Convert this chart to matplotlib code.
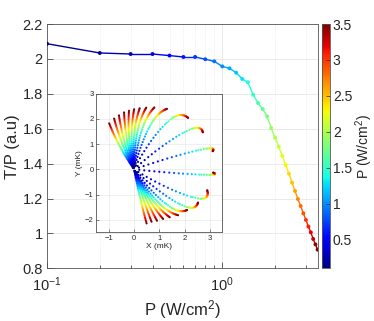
import numpy as np
import matplotlib
matplotlib.use('Agg')
import matplotlib.pyplot as plt
from matplotlib.collections import LineCollection
from matplotlib.colors import Normalize
from matplotlib.cm import ScalarMappable
from matplotlib.ticker import FixedLocator, FuncFormatter, NullFormatter

plt.rcParams['font.family'] = ['Liberation Sans', 'DejaVu Sans']
plt.rcParams['mathtext.fontset'] = 'custom'
plt.rcParams['mathtext.rm'] = 'Liberation Sans'
plt.rcParams['mathtext.it'] = 'Liberation Sans:italic'

# ---------------- data ----------------
power = [0.1, 0.2, 0.3, 0.4, 0.5, 0.6, 0.7, 0.8, 0.9, 1.0,
         1.1, 1.2, 1.3, 1.4, 1.5, 1.6, 1.7, 1.8, 1.9, 2.0,
         2.1, 2.2, 2.3, 2.4, 2.5, 2.6, 2.7, 2.8, 2.9, 3.0,
         3.1, 3.2, 3.3, 3.4, 3.5]
t_over_p = [2.087, 2.034, 2.028, 2.028, 2.019, 2.011, 2.011, 1.998, 1.986, 1.957,
            1.946, 1.921, 1.885, 1.866, 1.795, 1.747, 1.713, 1.671, 1.604, 1.549,
            1.497, 1.444, 1.392, 1.342, 1.291, 1.243, 1.197, 1.157, 1.115, 1.077,
            1.039, 1.006, 0.968, 0.937, 0.907]

y_ticks = [0.8, 1.0, 1.2, 1.4, 1.6, 1.8, 2.0, 2.2]
x_major = [0.1, 1.0]
x_major_labels = ['$10^{-1}$', '$10^{0}$']
cbar_ticks = [0.5, 1.0, 1.5, 2.0, 2.5, 3.0, 3.5]

# inset trajectories: start angle (deg), end angle (deg),
# initial slope (mK per W/cm2) and end radius (mK)
ray_theta_start = [125, 118, 112.5, 107, 102.5, 98, 94, 90, 84, 76, 63, 42, 19, -6,
                   -32, -44, -54, -60, -64, -67, -70, -74, -79]
ray_theta_end = [118.5, 111.5, 105.7, 100, 95, 90, 84.8, 78.9, 71.9, 61.5, 43.6, 28.3, 13, -2.4,
                 -16, -27.5, -37.6, -46.3, -53.4, -59.7, -66, -71.6, -77]
ray_slope = [0.60, 0.63, 0.66, 0.70, 0.75, 0.80, 0.88, 0.98, 1.10, 1.30, 1.70, 1.90, 2.05, 2.08,
             2.00, 1.75, 1.40, 1.10, 0.90, 0.80, 0.72, 0.66, 0.63]
ray_r_end = [2.07, 2.16, 2.22, 2.29, 2.33, 2.38, 2.43, 2.49, 2.58, 2.73, 2.96, 3.10, 3.20, 3.14,
             3.02, 2.86, 2.65, 2.52, 2.37, 2.28, 2.23, 2.19, 2.20]

# ---------------- figure ----------------
W, H = 374, 321
fig = plt.figure(figsize=(W / 100, H / 100), dpi=100)
txt = '#262626'

ax_left, ax_right, ax_top, ax_bot = 47, 318.3, 24, 268.3
ax = fig.add_axes([ax_left / W, 1 - ax_bot / H, (ax_right - ax_left) / W, (ax_bot - ax_top) / H])
cmap = plt.get_cmap('jet')
norm = Normalize(vmin=0.1, vmax=3.5)

P = np.array(power)
G = np.array(t_over_p)

pts = np.column_stack([P, G])
segs = np.stack([pts[:-1], pts[1:]], axis=1)
lc = LineCollection(segs, colors=cmap(norm(0.5 * (P[:-1] + P[1:]))), linewidths=1.0, zorder=3)
ax.add_collection(lc)
ax.scatter(P, G, c=P, cmap=cmap, norm=norm, s=8, zorder=4, linewidths=0)

ax.set_xscale('log')
ax.set_xlim(0.1, 3.53)
ax.set_ylim(0.8, 2.2)
ax.xaxis.set_major_locator(FixedLocator(x_major))
ax.xaxis.set_major_formatter(FuncFormatter(
    lambda v, i: x_major_labels[x_major.index(round(v, 3))] if round(v, 3) in x_major else ''))
ax.xaxis.set_minor_locator(FixedLocator([0.2, 0.3, 0.4, 0.5, 0.6, 0.7, 0.8, 0.9, 2, 3]))
ax.xaxis.set_minor_formatter(NullFormatter())
ax.set_yticks(y_ticks)
ax.set_yticklabels(['%g' % v for v in y_ticks])
ax.tick_params(which='both', direction='in', colors=txt, labelsize=10.5, width=0.5)
ax.tick_params(which='major', length=4)
ax.tick_params(which='minor', length=2)
ax.tick_params(axis='x', which='major', pad=5)
ax.tick_params(axis='y', which='major', pad=3)
ax.grid(True, which='major', color='#e6e6e6', linewidth=0.6)
ax.grid(True, which='minor', axis='x', color='#e6e6e6', linewidth=0.6, linestyle=':')
ax.set_axisbelow(True)
for sp in ax.spines.values():
    sp.set_color('#555555')
    sp.set_linewidth(0.6)
ax.set_xlabel('P (W/cm$^2$)', fontsize=12, color=txt, labelpad=3)
ax.set_ylabel('T/P (a.u)', fontsize=12, color=txt)
ax.yaxis.set_label_coords((20 - ax_left) / (ax_right - ax_left), 0.5)

# colorbar
cax = fig.add_axes([322.3 / W, 1 - ax_bot / H, 7.7 / W, (ax_bot - ax_top) / H])
cb = fig.colorbar(ScalarMappable(norm=norm, cmap=cmap), cax=cax)
cb.set_ticks(cbar_ticks)
cb.set_ticklabels(['%g' % v for v in cbar_ticks])
cb.ax.tick_params(direction='in', colors=txt, labelsize=10, width=0.5, length=3, pad=2)
cb.outline.set_edgecolor('#555555')
cb.outline.set_linewidth(0.6)
cb.set_label('P (W/cm$^2$)', fontsize=10, color=txt)
cb.ax.yaxis.set_label_coords((353 - 322.3) / 7.7, 0.5)

# inset
ins = fig.add_axes([96.3 / W, 1 - 232.3 / H, 126 / W, (232.3 - 93.7) / H])
g0, gend = G[0], G[-1]
wprog = (P - P[0]) / (P[-1] - P[0])
for th0, th1, a, rend in zip(ray_theta_start, ray_theta_end, ray_slope, ray_r_end):
    s = max(0.0, np.log(rend / (a * P[-1])) / np.log(gend / g0))
    r = a * P * (G / g0) ** s
    phi = np.deg2rad(th0 + (th1 - th0) * wprog)
    ins.scatter(r * np.cos(phi), r * np.sin(phi), c=P, cmap=cmap, norm=norm,
                s=2.4, linewidths=0, zorder=3)
ins.set_xlim(-1.5, 3.5)
ins.set_ylim(-2.5, 3)
ins.set_xticks([-1, 0, 1, 2, 3])
ins.set_yticks([-2, -1, 0, 1, 2, 3])
ins.tick_params(direction='in', colors=txt, labelsize=5.5, width=0.4, length=2, pad=2)
ins.grid(True, color='#e8e8e8', linewidth=0.5)
ins.set_axisbelow(True)
for sp in ins.spines.values():
    sp.set_color('#555555')
    sp.set_linewidth(0.6)
ins.set_xlabel('X (mK)', fontsize=6, color=txt, labelpad=1)
ins.set_ylabel('Y (mK)', fontsize=6, color=txt, labelpad=1)

fig.savefig('out.png', dpi=100)
